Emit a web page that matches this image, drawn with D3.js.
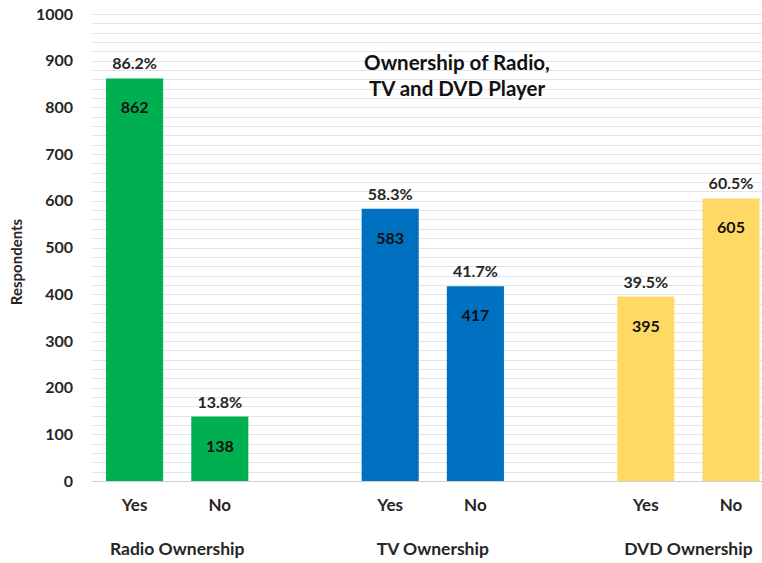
<!DOCTYPE html>
<html>
<head>
<meta charset="utf-8">
<script src="https://cdn.jsdelivr.net/npm/d3@7"></script>
<style>
  html, body { margin: 0; padding: 0; background: #fff; }
  svg { display: block; }
  text { font-family: Lato, "Open Sans", sans-serif; font-weight: bold; }
</style>
</head>
<body>
<svg id="chart" width="762" height="563"></svg>
<script>
// Survey results: ownership of radio, TV and DVD player
const groups = ["Radio Ownership", "TV Ownership", "DVD Ownership"];
const answers = ["Yes", "No"];
const respondents = [862, 138, 583, 417, 395, 605];
const percentLabels = ["86.2%", "13.8%", "58.3%", "41.7%", "39.5%", "60.5%"];
const groupColors = ["#00B050", "#0070C0", "#FFD966"];
const yTicks = [0, 100, 200, 300, 400, 500, 600, 700, 800, 900, 1000];
const titleLines = ["Ownership of Radio,", "TV and DVD Player"];

// One slot per bar plus an empty slot between groups
const slots = [];
groups.forEach((g, gi) => {
  answers.forEach((a, ai) => slots.push({ key: g + "|" + a, group: g, gi, answer: a, i: gi * 2 + ai }));
  if (gi < groups.length - 1) slots.push({ key: "gap" + gi, gap: true });
});
const bars = slots.filter(s => !s.gap).map(s => ({
  ...s, value: respondents[s.i], pct: percentLabels[s.i]
}));

const svg = d3.select("#chart");
const x = d3.scaleBand().domain(slots.map(s => s.key))
  .range([92, 773.6]).paddingInner(0.33).paddingOuter(0.165);
const y = d3.scaleLinear().domain([0, 1000]).range([481, 14]);

// Fine horizontal gridlines every 20 respondents
const gridVals = d3.range(20, 1001, 20);
svg.append("g").selectAll("line").data(gridVals).join("line")
  .attr("x1", 92).attr("x2", 762)
  .attr("y1", d => Math.round(y(d)) + 0.5).attr("y2", d => Math.round(y(d)) + 0.5)
  .attr("stroke", "#e4e4e4").attr("stroke-width", 1);

// Baseline
svg.append("line")
  .attr("x1", 92).attr("x2", 762)
  .attr("y1", Math.round(y(0)) + 0.5).attr("y2", Math.round(y(0)) + 0.5)
  .attr("stroke", "#d0d0d0").attr("stroke-width", 1);

// Y axis labels
const yAxis = d3.axisLeft(y).tickValues(yTicks).tickFormat(d3.format("d")).tickSize(0).tickPadding(0);
const yg = svg.append("g").attr("transform", "translate(73,0)").call(yAxis);
yg.select(".domain").remove();
yg.selectAll("text")
  .attr("font-size", 16).attr("fill", "#262626")
  .style("font-family", "Lato, 'Open Sans', sans-serif").style("font-weight", "bold");

svg.append("text")
  .attr("transform", "translate(22,262) rotate(-90)")
  .attr("text-anchor", "middle").attr("font-size", 15).attr("fill", "#262626")
  .text("Respondents");

// Bars
svg.append("g").selectAll("rect").data(bars).join("rect")
  .attr("x", d => x(d.key)).attr("width", x.bandwidth())
  .attr("y", d => y(d.value)).attr("height", d => y(0) - y(d.value))
  .attr("fill", d => groupColors[d.gi]);

// Percentage above each bar
svg.append("g").selectAll("text").data(bars).join("text")
  .attr("x", d => x(d.key) + x.bandwidth() / 2)
  .attr("y", d => y(d.value) - 9)
  .attr("text-anchor", "middle").attr("font-size", 16).attr("fill", "#262626")
  .text(d => d.pct);

// Count inside each bar
svg.append("g").selectAll("text").data(bars).join("text")
  .attr("x", d => x(d.key) + x.bandwidth() / 2)
  .attr("y", d => y(d.value) + 35)
  .attr("text-anchor", "middle").attr("font-size", 16).attr("fill", "#111")
  .text(d => d.value);

// Yes / No category labels
svg.append("g").selectAll("text").data(bars).join("text")
  .attr("x", d => x(d.key) + x.bandwidth() / 2)
  .attr("y", 511)
  .attr("text-anchor", "middle").attr("font-size", 17).attr("fill", "#262626")
  .text(d => d.answer);

// Group labels
svg.append("g").selectAll("text").data(groups).join("text")
  .attr("x", g => (x(g + "|Yes") + x(g + "|No") + x.bandwidth()) / 2)
  .attr("y", 555)
  .attr("text-anchor", "middle").attr("font-size", 17.5).attr("fill", "#262626")
  .text(g => g);

// Title
svg.append("g").selectAll("text").data(titleLines).join("text")
  .attr("x", 457).attr("y", (d, i) => 70 + i * 26)
  .attr("text-anchor", "middle").attr("font-size", 20.5).attr("fill", "#111")
  .text(d => d);
</script>
</body>
</html>
